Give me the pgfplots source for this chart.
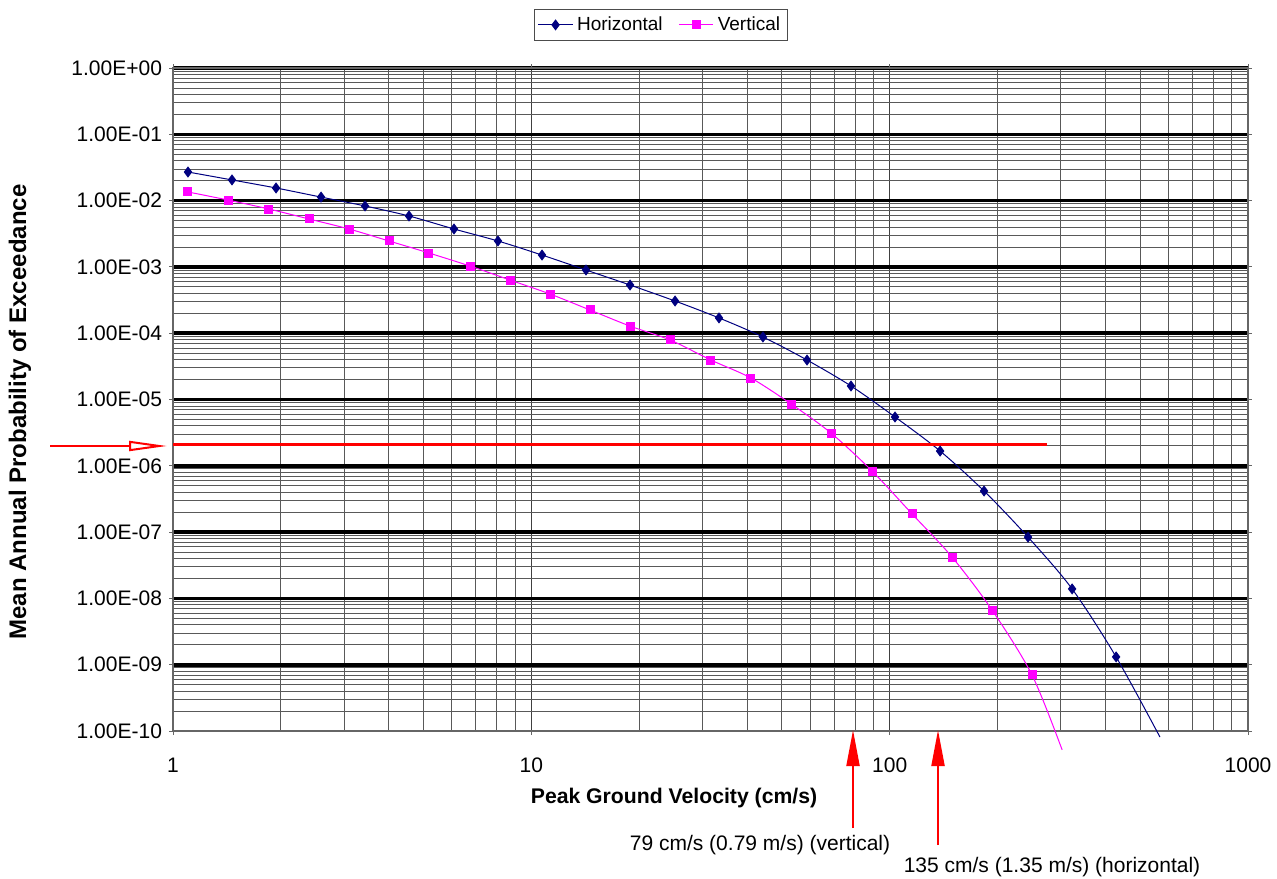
\documentclass[border=0pt]{standalone}
\usepackage{pgfplots}
\pgfplotsset{compat=1.18}
\usepackage{fontspec}
\setmainfont{Liberation Sans}
\usetikzlibrary{arrows.meta}
\definecolor{navy}{RGB}{0,0,128}
\definecolor{mag}{RGB}{255,0,255}
\begin{document}
\begin{tikzpicture}[x=0.5pt,y=0.5pt]
\useasboundingbox (0,0) rectangle (1277,878);
\begin{axis}[
 at={(86.5pt,73.5pt)}, anchor=south west,
 width=537.5pt, height=331.5pt, scale only axis,
 xmode=log, ymode=log,
 xmin=1, xmax=1000, ymin=1e-10, ymax=1,
 xtick={1,10,100,1000}, xticklabels={1,10,100,1000},
 minor xtick={2,3,4,5,6,7,8,9,20,30,40,50,60,70,80,90,200,300,400,500,600,700,800,900},
 ytick={1e-9,1e-8,1e-7,1e-6,1e-5,1e-4,1e-3,1e-2,1e-1,1},
 yticklabels={1.00E-09,1.00E-08,1.00E-07,1.00E-06,1.00E-05,1.00E-04,1.00E-03,1.00E-02,1.00E-01,1.00E+00},
 extra y ticks={1e-10}, extra y tick labels={1.00E-10},
 extra y tick style={grid=none},
 minor ytick={2e-10,3e-10,4e-10,5e-10,6e-10,7e-10,8e-10,9e-10,
  2e-9,3e-9,4e-9,5e-9,6e-9,7e-9,8e-9,9e-9,
  2e-8,3e-8,4e-8,5e-8,6e-8,7e-8,8e-8,9e-8,
  2e-7,3e-7,4e-7,5e-7,6e-7,7e-7,8e-7,9e-7,
  2e-6,3e-6,4e-6,5e-6,6e-6,7e-6,8e-6,9e-6,
  2e-5,3e-5,4e-5,5e-5,6e-5,7e-5,8e-5,9e-5,
  2e-4,3e-4,4e-4,5e-4,6e-4,7e-4,8e-4,9e-4,
  2e-3,3e-3,4e-3,5e-3,6e-3,7e-3,8e-3,9e-3,
  2e-2,3e-2,4e-2,5e-2,6e-2,7e-2,8e-2,9e-2,
  2e-1,3e-1,4e-1,5e-1,6e-1,7e-1,8e-1,9e-1},
 grid=both,
 major grid style={black!75, line width=0.5pt},
 minor grid style={black!65, line width=0.4pt},
 major y grid style={black, line width=1.8pt},
 tick align=outside, major tick length=2pt, minor tick length=0pt,
 tick style={black!60, line width=0.5pt},
 axis line style={black!60, line width=0.6pt},
 ticklabel style={font=\fontsize{10.5}{12}\selectfont},
 xticklabel style={yshift=-8pt},
 clip=false,
 legend style={at={(0.454,1.065)}, anchor=center, legend columns=2,
   draw=black!70, line width=0.5pt, font=\fontsize{9.5}{11}\selectfont,
   inner sep=1.5pt, /tikz/every even column/.append style={column sep=6pt}},
 legend cell align=left,
 legend image code/.code={
   \draw[#1, mark=none] (0cm,0cm) -- (0.6cm,0cm);
   \draw[#1, mark indices={1}] plot coordinates {(0.3cm,0cm)};},
]
\addplot[color=navy, line width=0.5pt, smooth, tension=0.5, mark=diamond*, mark size=2.4pt,
  mark options={solid, fill=navy}, mark indices={1,...,22}] coordinates {
(1.101,2.70e-2)(1.461,2.05e-2)(1.939,1.55e-2)(2.589,1.13e-2)(3.435,8.3e-3)(4.557,5.86e-3)
(6.085,3.73e-3)(8.07,2.46e-3)(10.71,1.51e-3)(14.21,8.98e-4)(18.86,5.33e-4)(25.18,3.06e-4)
(33.4,1.70e-4)(44.3,8.77e-5)(58.8,3.94e-5)(78.0,1.60e-5)(103.5,5.45e-6)(138.3,1.67e-6)
(183.4,4.17e-7)(243.3,8.4e-8)(323,1.39e-8)(428.5,1.31e-9)(568,8.1e-11)};
\addplot[color=mag, line width=0.5pt, smooth, tension=0.5, mark=square*, mark size=2pt,
  mark options={solid, fill=mag}, mark indices={1,...,22}] coordinates {
(1.101,1.35e-2)(1.424,1.02e-2)(1.853,7.47e-3)(2.397,5.28e-3)(3.10,3.73e-3)(4.007,2.46e-3)
(5.18,1.62e-3)(6.745,1.03e-3)(8.72,6.34e-4)(11.28,3.90e-4)(14.58,2.24e-4)(18.86,1.28e-4)
(24.4,7.9e-5)(31.7,3.94e-5)(41.0,2.11e-5)(53.1,8.55e-6)(68.6,3.12e-6)(89.3,8.35e-7)
(115.5,1.88e-7)(149.3,4.21e-8)(193.1,6.68e-9)(249.6,7.0e-10)(302.9,5.2e-11)};
\addplot[red, line width=1.5pt, forget plot] coordinates {(1,2.13e-6) (275,2.13e-6)};
\legend{Horizontal, Vertical}
\end{axis}
\node[font=\bfseries\fontsize{10.6}{12}\selectfont] at (674,80) {Peak Ground Velocity (cm/s)};
\node[rotate=90, font=\bfseries\fontsize{12}{14}\selectfont] at (20,466) {Mean Annual Probability of Exceedance};
\node[font=\fontsize{10.5}{12}\selectfont] at (760,33) {79 cm/s (0.79 m/s) (vertical)};
\node[font=\fontsize{10.5}{12}\selectfont] at (1052,11) {135 cm/s (1.35 m/s) (horizontal)};
\draw[red, line width=1pt, -{Triangle[length=18pt,width=6.5pt]}] (853,50) -- (853,148);
\draw[red, line width=1pt, -{Triangle[length=18pt,width=6.5pt]}] (938,33) -- (938,148);
\draw[red, line width=1pt, -{Triangle[open,length=19pt,width=5pt]}] (50,432) -- (167,432);
\end{tikzpicture}
\end{document}
